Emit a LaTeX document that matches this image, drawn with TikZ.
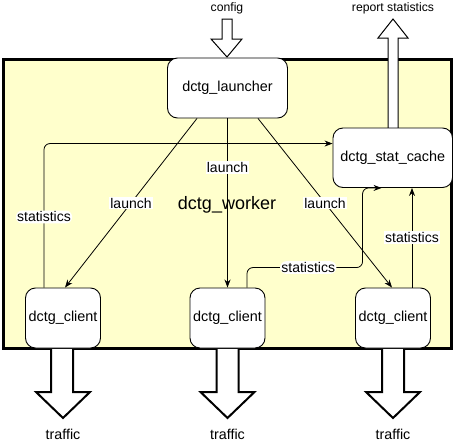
\documentclass[tikz,border=0pt]{standalone}
\usepackage{fontspec}
\setmainfont{Liberation Sans}
\usetikzlibrary{arrows.meta,calc}
\definecolor{wkfill}{HTML}{FFFFCC}
\begin{document}
\begin{tikzpicture}[x=1pt,y=-1pt,
 box/.style={draw=black,fill=white,rounded corners=10pt,line width=0.9pt,inner sep=0pt,font=\fontsize{14.4}{14.4}\selectfont},
 client/.style={box,minimum width=75pt,minimum height=60pt},
 conn/.style={draw=black,line width=0.8pt,-{Stealth[length=8pt,width=6pt]}},
 lbl/.style={fill=white,inner sep=1.2pt,font=\fontsize{14}{14}\selectfont},
 blk/.style={draw=black,fill=white,line width=1pt,line join=miter},
 tblk/.style={draw=black,fill=white,line width=2pt,line join=miter},
 small/.style={font=\fontsize{12.2}{12.2}\selectfont,anchor=base,inner sep=0pt},
 traf/.style={font=\fontsize{14.3}{14.3}\selectfont,anchor=base,inner sep=0pt}
]
\useasboundingbox (0,0) rectangle (455,447);
% worker container
\draw[fill=wkfill,draw=black,line width=3pt] (3,59) rectangle (451,348);
\node[font=\fontsize{18}{18}\selectfont,anchor=base,inner sep=0pt] (wk) at (227,209) {dctg\_worker};
% block arrows
\draw[blk] (222,19) -- (232,19) -- (232,39) -- (242,39) -- (227,57) -- (211,39) -- (222,39) -- cycle;
\draw[blk] (388,129) -- (388,38) -- (378,38) -- (393,19) -- (408,38) -- (398,38) -- (398,129) -- cycle;
\draw[tblk] (51,349) -- (51,392) -- (36,392) -- (63,418) -- (90,392) -- (73,392) -- (73,349);
\draw[tblk] (216.5,349) -- (216.5,392) -- (200.5,392) -- (227.5,418) -- (254.5,392) -- (238.5,392) -- (238.5,349);
\draw[tblk] (382,349) -- (382,392) -- (366,392) -- (393,418) -- (420,392) -- (404,392) -- (404,349);
% texts
\node[small] (cfg) at (227,11) {config};
\node[small] (rep) at (393,11) {report statistics};
\node[traf] (t1) at (63,439.5) {traffic};
\node[traf] (t2) at (227.5,439.5) {traffic};
\node[traf] (t3) at (393,439.5) {traffic};
% nodes
\node[box,minimum width=120pt,minimum height=60pt] (L) at (227.5,88) {dctg\_launcher};
\node[box,minimum width=119.5pt,minimum height=59.5pt] (S) at (392.75,157.75) {dctg\_stat\_cache};
\node[client] (C1) at (63,318) {dctg\_client};
\node[client] (C2) at (227.5,318) {dctg\_client};
\node[client] (C3) at (393,318) {dctg\_client};
% launch connectors
\draw[conn] ($(L.south)+(-30.5,0)$) -- node[lbl]{launch} ($(C1.north)+(2,0)$);
\draw[conn] (L.south) -- node[lbl,pos=0.29]{launch} (C2.north);
\draw[conn] ($(L.south)+(30.5,0)$) -- node[lbl]{launch} ($(C3.north)+(-1,0)$);
% statistics connectors
\coordinate (p1) at ($(C1.north)+(-19,0)$);
\coordinate (k1) at ($(p1)+(0,-144)$);
\draw[conn,rounded corners=6pt] (p1) -- node[lbl,pos=0.49]{statistics} (k1) -- (k1 -| S.west);
\coordinate (p2) at ($(C2.north)+(19.5,0)$);
\coordinate (k2) at ($(p2)+(0,-20)$);
\coordinate (k3) at ($(S.south west)+(30,0)$);
\coordinate (k4) at ($(S.south west)+(49,0)$);
\draw[conn,rounded corners=6pt] (p2) -- (k2) -- node[lbl,pos=0.53]{statistics} (k2 -| k3) -- (k3) -- (k4);
\coordinate (p3) at ($(C3.north)+(19,0)$);
\draw[conn] (p3) -- node[lbl]{statistics} (p3 |- S.south);
\end{tikzpicture}
\end{document}
